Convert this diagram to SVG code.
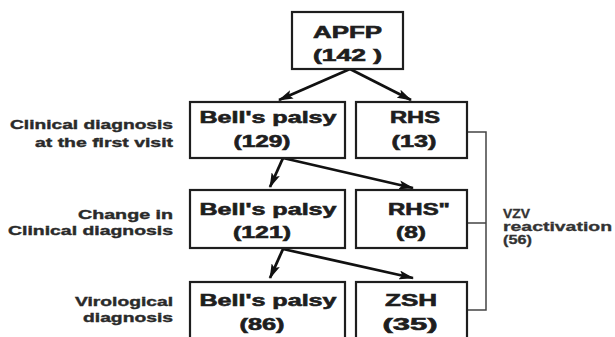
<svg xmlns="http://www.w3.org/2000/svg" width="615" height="337" viewBox="0 0 615 337">
<defs>
<style>
.box{fill:#fff;stroke:#1e1e1e;stroke-width:2.2}
.bt{font-family:"Liberation Sans",Arial,sans-serif;font-weight:bold;font-size:16px;fill:#1e1e1e;stroke:#1e1e1e;stroke-width:0.6;text-anchor:middle}
.lt{font-family:"Liberation Sans",Arial,sans-serif;font-weight:bold;font-size:13.5px;fill:#2a2a2a;stroke:#2a2a2a;stroke-width:0.4;text-anchor:end}
.vt{font-family:"Liberation Sans",Arial,sans-serif;font-weight:bold;font-size:12px;fill:#333;stroke:#333;stroke-width:0.3}
.arr{stroke:#111;stroke-width:2.8;fill:none;marker-end:url(#ah)}
.br{stroke:#444;stroke-width:1.5;fill:none}
</style>
<marker id="ah" viewBox="0 0 15 9" refX="14" refY="4.5" markerWidth="15" markerHeight="9" markerUnits="userSpaceOnUse" orient="auto">
<path d="M0,0 L15,4.5 L0,9 L3,4.5 Z" fill="#111"/>
</marker>
</defs>
<rect width="615" height="337" fill="#fff"/>

<g id="connectors">
<line class="arr" x1="350" y1="69" x2="279" y2="100"/>
<line class="arr" x1="350" y1="69" x2="411" y2="100"/>
<line class="arr" x1="283" y1="158" x2="270" y2="187"/>
<line class="arr" x1="283" y1="158" x2="413" y2="188"/>
<line class="arr" x1="283" y1="249" x2="270" y2="278"/>
<line class="arr" x1="283" y1="249" x2="413" y2="278"/>
<path class="br" d="M467,132 H486 V310 H467 M467,223 H486"/>
</g>

<g id="apfp">
<rect class="box" x="292" y="12" width="111" height="57"/>
<text class="bt" x="347.5" y="38" textLength="69" lengthAdjust="spacingAndGlyphs">APFP</text>
<text class="bt" x="347.5" y="61" textLength="69" lengthAdjust="spacingAndGlyphs">(142 )</text>
</g>

<g id="bells1">
<rect class="box" x="190" y="102" width="155" height="56"/>
<text class="bt" x="268" y="123" textLength="137" lengthAdjust="spacingAndGlyphs">Bell's palsy</text>
<text class="bt" x="262" y="147" textLength="57" lengthAdjust="spacingAndGlyphs">(129)</text>
</g>

<g id="rhs1">
<rect class="box" x="356" y="102" width="111" height="56"/>
<text class="bt" x="415" y="123" textLength="50" lengthAdjust="spacingAndGlyphs">RHS</text>
<text class="bt" x="414" y="147" textLength="45" lengthAdjust="spacingAndGlyphs">(13)</text>
</g>

<g id="bells2">
<rect class="box" x="190" y="190" width="155" height="58"/>
<text class="bt" x="268" y="215" textLength="137" lengthAdjust="spacingAndGlyphs">Bell's palsy</text>
<text class="bt" x="262" y="238" textLength="58" lengthAdjust="spacingAndGlyphs">(121)</text>
</g>

<g id="rhs2">
<rect class="box" x="356" y="190" width="111" height="58"/>
<text class="bt" x="419" y="215" textLength="62" lengthAdjust="spacingAndGlyphs">RHS"</text>
<text class="bt" x="411" y="238" textLength="30" lengthAdjust="spacingAndGlyphs">(8)</text>
</g>

<g id="bells3">
<rect class="box" x="190" y="282" width="155" height="60"/>
<text class="bt" x="268" y="306" textLength="137" lengthAdjust="spacingAndGlyphs">Bell's palsy</text>
<text class="bt" x="262" y="330" textLength="45" lengthAdjust="spacingAndGlyphs">(86)</text>
</g>

<g id="zsh">
<rect class="box" x="356" y="282" width="111" height="60"/>
<text class="bt" x="411" y="306" textLength="52" lengthAdjust="spacingAndGlyphs">ZSH</text>
<text class="bt" x="410" y="330" textLength="55" lengthAdjust="spacingAndGlyphs">(35)</text>
</g>

<g id="labels">
<text class="lt" x="173" y="129" textLength="163" lengthAdjust="spacingAndGlyphs">Clinical diagnosis</text>
<text class="lt" x="173" y="147" textLength="138" lengthAdjust="spacingAndGlyphs">at the first visit</text>
<text class="lt" x="173" y="219" textLength="95" lengthAdjust="spacingAndGlyphs">Change in</text>
<text class="lt" x="173" y="235" textLength="165" lengthAdjust="spacingAndGlyphs">Clinical diagnosis</text>
<text class="lt" x="173" y="306" textLength="98" lengthAdjust="spacingAndGlyphs">Virological</text>
<text class="lt" x="173" y="322" textLength="90" lengthAdjust="spacingAndGlyphs">diagnosis</text>
</g>

<g id="vzv">
<text class="vt" x="503" y="218" textLength="27" lengthAdjust="spacingAndGlyphs">VZV</text>
<text class="vt" x="503" y="231" textLength="109" lengthAdjust="spacingAndGlyphs">reactivation</text>
<text class="vt" x="503" y="244" textLength="29" lengthAdjust="spacingAndGlyphs">(56)</text>
</g>
</svg>
